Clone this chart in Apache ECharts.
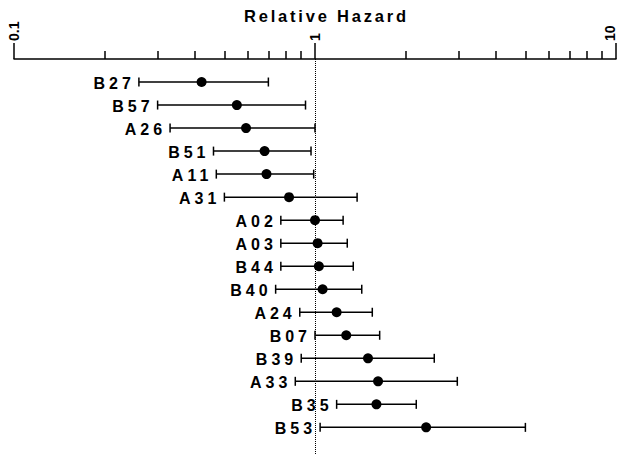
<!DOCTYPE html>
<html>
<head>
<meta charset="utf-8">
<script src="https://cdn.jsdelivr.net/npm/echarts@6/dist/echarts.min.js"></script>
<style>
  html, body { margin: 0; padding: 0; background: #fff; overflow: hidden; }
  #chart { width: 619px; height: 455px; }
  text[style*="16.5px"] { letter-spacing: 2.8px; }
  text[style*="16px"] { letter-spacing: 4px; }
</style>
</head>
<body>
<div id="chart"></div>
<script>
const titleText = 'Relative Hazard';
const categories = ['B27','B57','A26','B51','A11','A31','A02','A03','B44','B40','A24','B07','B39','A33','B35','B53'];
const hazard = [0.42,0.55,0.59,0.68,0.69,0.82,1.00,1.02,1.03,1.06,1.18,1.27,1.50,1.62,1.60,2.34];
const lower  = [0.26,0.30,0.33,0.46,0.47,0.50,0.77,0.77,0.77,0.74,0.89,1.00,0.90,0.86,1.18,1.04];
const upper  = [0.70,0.93,1.00,0.97,0.99,1.38,1.24,1.28,1.34,1.43,1.55,1.64,2.49,2.97,2.17,5.00];
const majorTicks = [0.1, 1, 10];
const minorTicks = [0.2,0.3,0.4,0.5,0.6,0.7,0.8,0.9,2,3,4,5,6,7,8,9];
const refValue = 1;

const FONT = "'Liberation Sans', Arial, sans-serif";
const data = categories.map((c, i) => [lower[i], hazard[i], upper[i], i]);

const chart = echarts.init(document.getElementById('chart'), null, { renderer: 'svg' });

function renderItem(params, api) {
  const lo = api.value(0), hr = api.value(1), hi = api.value(2), idx = api.value(3);
  const pLo = api.coord([lo, idx]);
  const pHr = api.coord([hr, idx]);
  const pHi = api.coord([hi, idx]);
  const cap = 4.5;
  const ls = { stroke: '#000', lineWidth: 1.5 };
  return {
    type: 'group',
    children: [
      { type: 'line', shape: { x1: pLo[0], y1: pLo[1], x2: pHi[0], y2: pHi[1] }, style: ls },
      { type: 'line', shape: { x1: pLo[0], y1: pLo[1] - cap, x2: pLo[0], y2: pLo[1] + cap }, style: ls },
      { type: 'line', shape: { x1: pHi[0], y1: pHi[1] - cap, x2: pHi[0], y2: pHi[1] + cap }, style: ls },
      { type: 'circle', shape: { cx: pHr[0], cy: pHr[1], r: 5 }, style: { fill: '#000' } },
      { type: 'text', style: {
          x: pLo[0] - 4, y: pLo[1] + 1.5,
          text: categories[idx], align: 'right', verticalAlign: 'middle',
          fontSize: 16, fontWeight: 'bold', fontFamily: FONT, fill: '#000'
        } }
    ]
  };
}

const axisBase = {
  type: 'log', logBase: 10, min: 0.1, max: 10, position: 'top',
  splitLine: { show: false }
};

const tickFont = { fontSize: 14, fontWeight: 'bold', fontFamily: FONT, color: '#000' };

chart.setOption({
  animation: false,
  backgroundColor: '#fff',
  title: {
    text: titleText, left: 244, top: 7, padding: 0,
    textStyle: { fontSize: 16.5, fontWeight: 'bold', fontFamily: FONT, color: '#000' }
  },
  grid: { left: 14, right: 3, top: 59, bottom: 0, outerBoundsMode: 'none', containLabel: false },
  xAxis: [
    Object.assign({}, axisBase, {
      axisLine: { show: true, onZero: false, lineStyle: { color: '#000', width: 1.5 } },
      axisTick: { show: true, length: 16, lineStyle: { color: '#000', width: 1.5 }, customValues: majorTicks },
      axisLabel: Object.assign({ show: true, rotate: -90, margin: 18,
                   customValues: majorTicks,
                   formatter: v => (v >= 10 ? '{e|' + String(v) + '}' : String(v)),
                   rich: { e: Object.assign({ padding: [0, 0, 12, 0] }, tickFont) } }, tickFont)
    }),
    Object.assign({}, axisBase, {
      axisLine: { show: false, onZero: false },
      axisTick: { show: true, length: 8, lineStyle: { color: '#000', width: 1.5 }, customValues: minorTicks },
      axisLabel: { show: false }
    })
  ],
  yAxis: { type: 'value', inverse: true, min: -1, max: 16.2, show: false },
  series: [{
    type: 'custom',
    xAxisIndex: 0,
    renderItem: renderItem,
    encode: { x: [0, 1, 2], y: 3 },
    data: data,
    markLine: {
      silent: true, symbol: 'none',
      label: { show: false },
      lineStyle: { color: '#000', type: 'dotted', width: 1 },
      data: [{ xAxis: refValue }]
    }
  }]
});
</script>
</body>
</html>
